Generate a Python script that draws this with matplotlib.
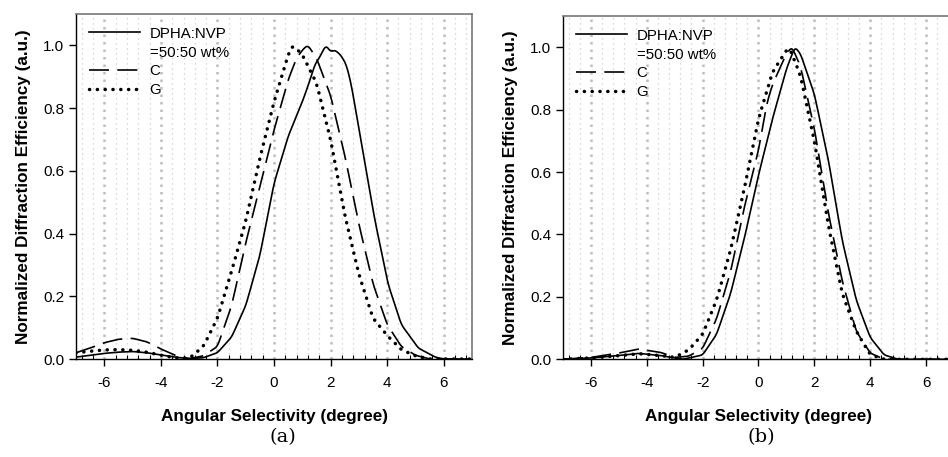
import numpy as np
import matplotlib
matplotlib.use("Agg")
import matplotlib.pyplot as plt
from matplotlib.lines import Line2D
from matplotlib.ticker import MultipleLocator

plt.rcParams['font.family'] = ['Liberation Sans', 'DejaVu Sans']

# panel (a) - angle (degree) vs normalized efficiency
xa_sol = [-7.0, -6.5, -6.0, -5.5, -5.0, -4.5, -4.0, -3.5, -3.0, -2.5, -2.0, -1.5, -1.0,
          -0.5, 0.0, 0.5, 1.0, 1.2, 1.45, 1.6, 1.83, 2.0, 2.15, 2.35, 2.55, 2.72, 3.07,
          3.55, 4.03, 4.5, 5.1, 5.7, 6.0, 7.0]
ya_sol = [0.006, 0.012, 0.018, 0.022, 0.024, 0.02, 0.013, 0.006, 0.001, 0.004, 0.02, 0.07, 0.17,
          0.33, 0.56, 0.71, 0.82, 0.87, 0.94, 0.96, 1.0, 0.98, 0.985, 0.97, 0.94, 0.88, 0.70,
          0.45, 0.24, 0.11, 0.035, 0.006, 0.0, 0.0]

xa_c = [-7.0, -6.5, -6.0, -5.5, -5.0, -4.5, -4.0, -3.5, -3.0, -2.5, -2.0, -1.5, -1.0,
        -0.5, 0.0, 0.5, 0.8, 1.05, 1.2, 1.35, 1.5, 2.0, 2.5, 3.0, 3.5, 4.0, 4.5,
        5.0, 5.5, 7.0]
ya_c = [0.02, 0.035, 0.052, 0.063, 0.066, 0.055, 0.032, 0.012, 0.001, 0.01, 0.04, 0.17, 0.37,
        0.55, 0.73, 0.89, 0.96, 0.99, 1.0, 0.98, 0.96, 0.84, 0.65, 0.43, 0.24, 0.11, 0.04,
        0.012, 0.0, 0.0]

xa_g = [-7.0, -6.5, -6.0, -5.5, -5.0, -4.5, -4.0, -3.5, -3.0, -2.5, -2.0, -1.5, -1.0,
        -0.5, 0.0, 0.5, 0.65, 0.9, 1.0, 1.5, 2.0, 2.5, 3.0, 3.5, 4.0, 4.5, 5.0,
        5.5, 7.0]
ya_g = [0.02, 0.025, 0.029, 0.03, 0.028, 0.022, 0.012, 0.004, 0.002, 0.04, 0.13, 0.28, 0.44,
        0.64, 0.82, 0.97, 1.0, 0.98, 0.97, 0.88, 0.70, 0.46, 0.27, 0.13, 0.075, 0.03, 0.01,
        0.0, 0.0]

# panel (b)
xb_sol = [-7.0, -6.0, -5.0, -4.3, -3.5, -3.0, -2.7, -2.0, -1.5, -1.0, -0.5, 0.0, 0.5,
          1.0, 1.3, 1.5, 2.0, 2.5, 3.0, 3.5, 4.0, 4.5, 5.0, 7.0]
yb_sol = [0.0, 0.004, 0.012, 0.019, 0.012, 0.004, 0.0, 0.014, 0.08, 0.21, 0.39, 0.59, 0.77,
          0.93, 1.0, 0.98, 0.85, 0.64, 0.38, 0.19, 0.07, 0.014, 0.0, 0.0]

xb_c = [-7.0, -6.0, -5.0, -4.3, -3.5, -3.0, -2.5, -2.0, -1.5, -1.0, -0.5, 0.0, 0.3,
        0.5, 1.0, 1.2, 1.5, 2.0, 2.5, 3.0, 3.5, 4.0, 4.5, 7.0]
yb_c = [0.0, 0.006, 0.02, 0.033, 0.022, 0.006, 0.01, 0.035, 0.13, 0.28, 0.49, 0.67, 0.82,
        0.88, 0.98, 1.0, 0.94, 0.74, 0.47, 0.25, 0.09, 0.02, 0.0, 0.0]

xb_g = [-7.0, -6.0, -5.0, -4.3, -3.5, -3.0, -2.5, -2.0, -1.5, -1.0, -0.5, 0.0, 0.5,
        1.0, 1.1, 1.5, 2.0, 2.5, 3.0, 3.5, 4.0, 4.5, 7.0]
yb_g = [0.0, 0.004, 0.012, 0.018, 0.012, 0.006, 0.03, 0.08, 0.19, 0.35, 0.55, 0.77, 0.92,
        0.99, 1.0, 0.91, 0.70, 0.43, 0.21, 0.09, 0.015, 0.0, 0.0]

legend_labels = ["DPHA:NVP", "=50:50 wt%", "C", "G"]
panel_tags = ["(a)", "(b)"]

PUNTOS = dict(color='black', linewidth=2.5, linestyle=(0, (0.05, 2.2)), dash_capstyle='round')
GUIONES = dict(color='black', linewidth=1.2, dashes=(12, 5))
SOLIDA = dict(color='black', linewidth=1.2)


def smooth(xs, ys):
    # resample the read points on a fine grid so the curves look continuous
    xf = np.linspace(xs[0], xs[-1], 600)
    yf = np.interp(xf, xs, ys)
    k = np.ones(7) / 7
    yf = np.convolve(np.pad(yf, 3, mode='edge'), k, mode='valid')
    return xf, yf


def dibujar(ax, datos):
    (xs, ys), (xc, yc), (xg, yg) = datos
    ax.set_xlim(-7, 7)
    ax.set_ylim(0, 1.1)

    ax.xaxis.set_major_locator(MultipleLocator(2))
    ax.xaxis.set_minor_locator(MultipleLocator(0.4))
    ax.yaxis.set_major_locator(MultipleLocator(0.2))
    ax.grid(True, which='minor', axis='x', color='#cccccc', linestyle=(0, (1, 3)), linewidth=0.9)
    ax.grid(True, which='major', axis='x', color='#bdbdbd', linestyle=(0, (1, 2)), linewidth=1.8)
    ax.set_axisbelow(True)

    ax.plot(*smooth(xs, ys), **SOLIDA)
    ax.plot(*smooth(xc, yc), **GUIONES)
    ax.plot(*smooth(xg, yg), **PUNTOS)

    ax.tick_params(axis='both', which='major', direction='out', length=5, width=1,
                   labelsize=11, colors='black')
    ax.tick_params(axis='x', which='major', pad=7)
    ax.tick_params(axis='x', which='minor', direction='in', length=3, width=0.8)
    ax.set_yticklabels([f"{v:.1f}" for v in ax.get_yticks()])
    ax.set_xticklabels([f"{v:g}" for v in ax.get_xticks()])

    for lado in ['top', 'right']:
        ax.spines[lado].set_color('#777777')
        ax.spines[lado].set_linewidth(1.2)
    for lado in ['left', 'bottom']:
        ax.spines[lado].set_color('black')
        ax.spines[lado].set_linewidth(1.0)

    ax.set_xlabel("Angular Selectivity (degree)", fontsize=12.3, fontweight='bold', labelpad=14)
    ax.set_ylabel("Normalized Diffraction Efficiency (a.u.)", fontsize=12.3,
                  fontweight='bold', labelpad=9)

    handles = [Line2D([], [], **SOLIDA),
               Line2D([], [], linestyle='none'),
               Line2D([], [], **GUIONES),
               Line2D([], [], **PUNTOS)]
    ax.legend(handles, legend_labels, loc='upper left', frameon=False, fontsize=10.8,
              handlelength=3.4, handletextpad=0.65, labelspacing=0.32,
              borderaxespad=0.4, borderpad=0.45)


fig = plt.figure(figsize=(9.48, 4.57), dpi=100)
ax1 = fig.add_axes([0.0802, 0.2144, 0.4177, 0.755])
ax2 = fig.add_axes([0.5939, 0.2138, 0.4124, 0.7512])

dibujar(ax1, [(xa_sol, ya_sol), (xa_c, ya_c), (xa_g, ya_g)])
dibujar(ax2, [(xb_sol, yb_sol), (xb_c, yb_c), (xb_g, yb_g)])

fig.text(283 / 948, 1 - 437 / 457, panel_tags[0], ha='center', va='center',
         fontsize=14, family='DejaVu Serif')
fig.text(761 / 948, 1 - 437 / 457, panel_tags[1], ha='center', va='center',
         fontsize=14, family='DejaVu Serif')

fig.savefig("out.png", dpi=100)
